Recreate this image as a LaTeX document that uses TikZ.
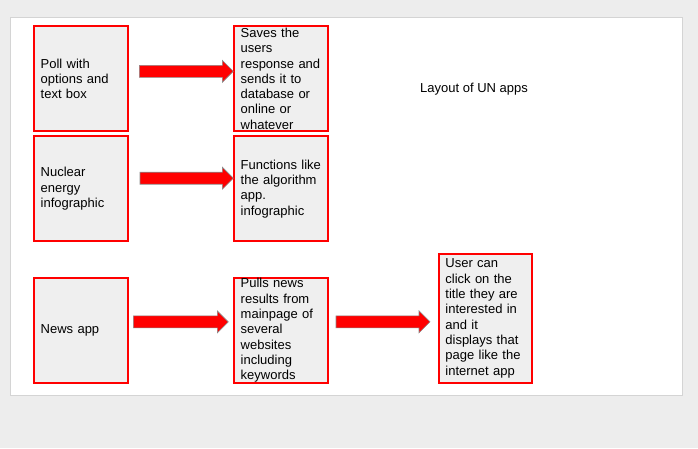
\documentclass[tikz,border=0pt]{standalone}
\usepackage{fontspec}
\setmainfont{Liberation Sans}
\usetikzlibrary{positioning, calc}
\definecolor{pagegray}{HTML}{EDEDED}
\definecolor{boxgray}{HTML}{EFEFEF}
\definecolor{pageedge}{HTML}{D4D4D4}
\definecolor{arrowedge}{HTML}{8A8A8A}
\tikzset{%
  appbox/.style={draw=red, line width=2pt, fill=boxgray, rectangle,
    minimum width=93.4pt, minimum height=105pt, text width=80.6pt,
    inner xsep=6.4pt, inner ysep=0.5pt, outer sep=0pt, align=left,
    font={\fontsize{13pt}{15.3pt}\selectfont}},
  tallbox/.style={appbox, minimum height=129.3pt},
  arrowbody/.style={fill=red, draw=arrowedge, line width=0.6pt},
  title/.style={font={\fontsize{13pt}{15.3pt}\selectfont}, inner sep=0pt}
}
% block arrow: shaft from #1 to the head, tip at the x of #2
\newcommand{\blockarrow}[2]{%
  \draw[arrowbody] let \p1=(#1), \p2=(#2) in
    (\x1,\y1+6pt) -- (\x2-11pt,\y1+6pt) -- (\x2-11pt,\y1+11pt) --
    (\x2,\y1) -- (\x2-11pt,\y1-11pt) -- (\x2-11pt,\y1-6pt) --
    (\x1,\y1-6pt) -- cycle;}
\begin{document}
\begin{tikzpicture}[x=1pt, y=-1pt]
  \useasboundingbox (0,0) rectangle (698,448);
  \fill[pagegray] (0,0) rectangle (698,448);
  \draw[fill=white, draw=pageedge, line width=1pt] (10.5,17.5) rectangle (682,395.5);

  \node[appbox] (poll) at (81,78.7) {Poll with\\options and\\text box};
  \node[appbox, right=106.6pt of poll] (saves)
    {Saves the\\users\\response and\\sends it to\\database or\\online or\\whatever};
  \node[appbox, below=5pt of poll] (nuclear) {Nuclear\\energy\\infographic};
  \node[appbox, right=106.6pt of nuclear] (functions)
    {Functions like\\the algorithm\\app.\\infographic};
  \node[appbox, below=36.7pt of nuclear] (news) {News app};
  \node[appbox, right=106.6pt of news] (pulls)
    {Pulls news\\results from\\mainpage of\\several\\websites\\including\\keywords};
  \node[tallbox, right=111.3pt of pulls, yshift=12pt] (user)
    {User can\\click on the\\title they are\\interested in\\and it\\displays that\\page like the\\internet app};
  \node[title, anchor=base west] (layout) at (420,92) {Layout of UN apps};

  \blockarrow{[xshift=11.6pt, yshift=7.4pt]poll.east}{[xshift=-1pt]saves.west}
  \blockarrow{[xshift=12.3pt, yshift=10.5pt]nuclear.east}{[xshift=-1pt]functions.west}
  \blockarrow{[xshift=5.6pt, yshift=8.5pt]news.east}{[xshift=-6pt]pulls.west}
  \blockarrow{[xshift=8.3pt, yshift=8.6pt]pulls.east}{[xshift=-9pt]user.west}
\end{tikzpicture}
\end{document}
